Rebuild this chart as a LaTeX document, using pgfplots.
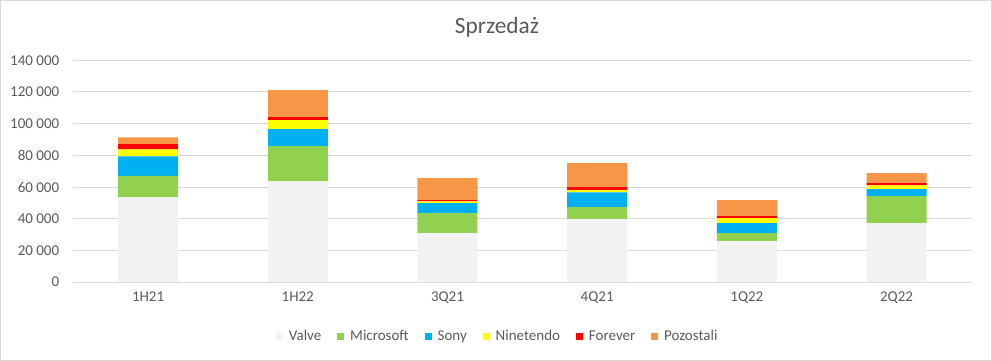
\documentclass[border=0pt]{standalone}
\usepackage{pgfplots}
\pgfplotsset{compat=1.18}
\usepackage{pgfplotstable}
\usepackage{fontspec}
\setmainfont{Carlito}
\definecolor{cValve}{HTML}{F2F2F2}
\definecolor{cMS}{HTML}{92D050}
\definecolor{cSony}{HTML}{00B0F0}
\definecolor{cNin}{HTML}{FFFF00}
\definecolor{cFor}{HTML}{FF0000}
\definecolor{cPoz}{HTML}{F79646}
\definecolor{txt}{HTML}{595959}
\definecolor{grd}{HTML}{D9D9D9}
\pgfplotstableread{
x valve ms sony nin forever poz
0 53600 13400 12400 4400 3200 4400
1 63700 22100 10700 5700 1900 17000
2 30900 12600 6300 1100 800 13900
3 39700 7600 9400 1300 1900 15100
4 25900 5000 6300 3200 1300 10100
5 37200 17000 4400 2500 1300 6300
}\datatable
\begin{document}
\begin{tikzpicture}
\path[use as bounding box, draw=grd] (0,0) rectangle (744pt,270pt);
\node[text=txt, font=\fontsize{17.5}{20}\selectfont] at (372.75pt,249.5pt) {Sprzedaż};
\begin{axis}[
  at={(54.75pt,58.5pt)}, anchor=south west,
  scale only axis, width=674pt, height=166.5pt,
  ybar stacked, bar width=45pt,
  xmin=-0.5, xmax=5.5, ymin=0, ymax=140000,
  xtick=data, xticklabels={1H21,1H22,3Q21,4Q21,1Q22,2Q22},
  ytick distance=20000,
  scaled y ticks=false,
  /pgf/number format/assume math mode=true,
  /pgf/number format/1000 sep={\ },
  yticklabel style={/pgf/number format/fixed},
  ymajorgrids, grid style={grd, line width=0.75pt},
  axis x line*=bottom, axis y line*=left,
  x axis line style={grd, line width=0.75pt, -},
  y axis line style={draw=none},
  major tick length=0pt,
  tick label style={text=txt, font=\fontsize{11.25}{13}\selectfont},
  xticklabel style={yshift=-4pt},
  yticklabel style={xshift=-7pt},
  legend columns=6,
  legend style={at={(0.473,-0.245)}, anchor=center, draw=none, fill=none,
    font=\fontsize{11.25}{13}\selectfont, text=txt,
    /tikz/every even column/.append style={column sep=10pt},
    /tikz/every odd column/.append style={column sep=2.5pt}},
  legend image code/.code={\fill[#1,draw=none] (0pt,-2.6pt) rectangle (5.2pt,2.6pt);},
]
\addplot[fill=cValve, draw=none] table[x=x,y=valve]{\datatable};
\addplot[fill=cMS, draw=none] table[x=x,y=ms]{\datatable};
\addplot[fill=cSony, draw=none] table[x=x,y=sony]{\datatable};
\addplot[fill=cNin, draw=none] table[x=x,y=nin]{\datatable};
\addplot[fill=cFor, draw=none] table[x=x,y=forever]{\datatable};
\addplot[fill=cPoz, draw=none] table[x=x,y=poz]{\datatable};
\legend{Valve,Microsoft,Sony,Ninetendo,Forever,Pozostali}
\end{axis}
\end{tikzpicture}
\end{document}
